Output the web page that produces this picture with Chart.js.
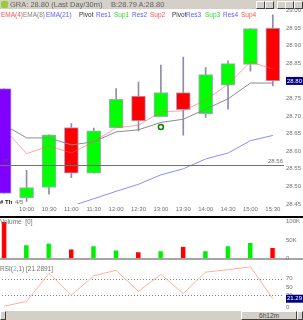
<!DOCTYPE html>
<html>
<head>
<meta charset="utf-8">
<script src="https://cdn.jsdelivr.net/npm/chart.js"></script>
<style>
  html, body { margin: 0; padding: 0; background: #fff; }
  #wrap { position: relative; width: 303px; height: 320px; overflow: hidden; font-family: "Liberation Sans", Arial, sans-serif; }
  canvas { position: absolute; left: -7px; }
  .txt { position: absolute; white-space: nowrap; font-size: 6.5px; line-height: 7px; }
  #title { position: absolute; left: 0; top: 0; width: 303px; height: 9px; background: #d4d0c8; }
  #title .t { position: absolute; top: 0; font-size: 7.5px; line-height: 9px; color: #606060; }
  .btn { position: absolute; top: 1px; width: 7px; height: 6px; background: #d4d0c8; border: 1px solid; border-color: #fff #404040 #404040 #fff; }
  #scroll { position: absolute; left: 0; top: 311px; width: 303px; height: 9px; background: #d4d0c8; }
</style>
</head>
<body>
<div id="wrap">
  <canvas id="main" width="310" height="208" style="top:5px"></canvas>
  <canvas id="vol" width="310" height="48" style="top:216px"></canvas>
  <canvas id="rsi" width="310" height="52" style="top:261px"></canvas>

  <div id="title">
    <div style="position:absolute;left:1px;top:1px;width:7px;height:7px;background:#9c3;border-radius:2px"></div>
    <div class="t" style="left:10px">GRA: 28.80 (Last Day/30m)</div>
    <div class="t" style="left:111px">B:28.79 A:28.80</div>
    <div class="btn" style="left:256px"></div>
    <div class="btn" style="left:265px"></div>
    <div class="btn" style="left:277px"></div>
    <div class="btn" style="left:285px"></div>
    <div class="btn" style="left:294px"></div>
  </div>

  <div id="legend"></div>

  <div style="position:absolute;left:0;top:216px;width:303px;height:2px;background:#000"></div>
  <div class="txt" style="left:0;top:218px;color:#707070">Volume&nbsp; [0]</div>
  <div class="txt" style="left:0;top:265px;color:#707070">RSI(<span style="color:#60c0ff">2</span>,1) [21.2891]</div>

  <div id="scroll">
    <div style="position:absolute;left:0;top:0;width:4px;height:7px;border:1px solid;border-color:#fff #404040 #404040 #fff"></div>
    <div style="position:absolute;left:241px;top:0;width:54px;height:7px;border:1px solid;border-color:#fff #404040 #404040 #fff;font-size:6.5px;line-height:7px;text-align:center;color:#404040">6h12m</div>
    <div style="position:absolute;left:297px;top:0;width:4px;height:7px;border:1px solid;border-color:#fff #404040 #404040 #fff"></div>
  </div>
</div>

<script>
// bar slots (first one is the previous day's last bar)
const times = ['', '10:00', '10:30', '11:00', '11:30', '12:00', '12:30', '13:00', '13:30', '14:00', '14:30', '15:00', '15:30'];

const opens  = [28.778, 28.467, 28.497, 28.667, 28.538, 28.667, 28.757, 28.698, 28.767, 28.707, 28.788, 28.847, 28.950];
const closes = [28.480, 28.497, 28.647, 28.538, 28.658, 28.748, 28.686, 28.767, 28.718, 28.818, 28.849, 28.949, 28.800];
const highs  = [28.778, 28.546, 28.647, 28.679, 28.666, 28.778, 28.797, 28.845, 28.868, 28.838, 28.857, 28.949, 28.988];
const lows   = [28.480, 28.457, 28.478, 28.525, 28.538, 28.667, 28.658, 28.698, 28.646, 28.696, 28.720, 28.828, 28.786];

const ema4  = [28.664, 28.593, 28.615, 28.595, 28.627, 28.667, 28.674, 28.712, 28.715, 28.746, 28.790, 28.854, 28.834];
const ema8  = [28.675, 28.638, 28.638, 28.618, 28.627, 28.655, 28.661, 28.682, 28.691, 28.720, 28.749, 28.794, 28.794];
const ema21 = [28.390, 28.400, 28.420, 28.444, 28.465, 28.486, 28.506, 28.533, 28.550, 28.578, 28.595, 28.630, 28.645];
const signal = [null, null, null, null, null, null, null, 28.669, null, null, null, null, null];

const pivot = 28.56;
const lastPrice = 28.80;

const volume = [99000, 36000, 40500, 24500, 33000, 21600, 17000, 19300, 31400, 19300, 33000, 42000, 28400];
const volTicks = [0, 25000, 50000, 75000, 100000];
const volTickLabels = ['0', '25K', '50K', '75K', '100K'];

const rsi = [3, 14.8, 83.4, 30.2, 77.3, 90.9, 39.3, 81.1, 34.1, 86.4, 92.5, 99.5, 21.29];
const rsiTicks = [0, 30, 50, 70];
const rsiLast = 21.29;

const legendItems = [
  ['EMA(4)', 1, '#ff5050'], ['EMA(8)', 23, '#808080'], ['EMA(21)', 46, '#6060ff'],
  ['Pivot', 79, '#303030'], ['Res1', 96, '#6060ff'], ['Sup1', 114, '#30d830'],
  ['Res2', 132, '#6060ff'], ['Sup2', 150, '#ff5050'], ['Pivot', 172, '#303030'],
  ['Res3', 186, '#6060ff'], ['Sup3', 205, '#30d830'], ['Res4', 223, '#6060ff'], ['Sup4', 241, '#ff5050']
];

const legend = document.getElementById('legend');
legendItems.forEach(([t, x, c]) => {
  const d = document.createElement('div');
  d.className = 'txt';
  d.style.left = x + 'px';
  d.style.top = '11px';
  d.style.color = c;
  d.textContent = t;
  legend.appendChild(d);
});

const tickFont = { family: 'Liberation Sans', size: 6 };
const tickColor = '#707070';
const AXIS_W = 19;
const noGrid = { display: false, drawTicks: false, tickLength: 0 };

const up = closes.map((c, i) => i > 0 && c > opens[i]);
const bodyColors = up.map(u => u ? '#00ff00' : '#ff0000');

function valueBox(ctx, chart, value, text) {
  const y = chart.scales.y.getPixelForValue(value);
  const x = chart.chartArea.right + 2;
  ctx.save();
  ctx.fillStyle = '#000080';
  ctx.fillRect(x, y - 4, 40, 8);
  ctx.fillStyle = '#fff';
  ctx.font = '6px Liberation Sans';
  ctx.textBaseline = 'middle';
  ctx.fillText(text, x + 1, y);
  ctx.restore();
}

const mainExtras = {
  id: 'mainExtras',
  afterDatasetsDraw(chart) {
    const ctx = chart.ctx;
    const a = chart.chartArea;
    const py = chart.scales.y.getPixelForValue(pivot);
    ctx.save();
    ctx.strokeStyle = '#707070';
    ctx.lineWidth = 1;
    ctx.beginPath();
    ctx.moveTo(a.left, Math.round(py) + 0.5);
    ctx.lineTo(a.right, Math.round(py) + 0.5);
    ctx.stroke();
    ctx.font = '6px Liberation Sans';
    ctx.fillStyle = '#505050';
    ctx.textBaseline = 'bottom';
    ctx.fillText('P', 11, py - 1);
    ctx.fillStyle = '#707070';
    ctx.textAlign = 'right';
    ctx.fillText(pivot.toFixed(2), a.right - 1, py - 1);
    ctx.textAlign = 'left';
    ctx.textBaseline = 'middle';
    ctx.font = 'bold 6px Liberation Sans';
    ctx.fillStyle = '#202020';
    ctx.fillText('# Th', 7, 197);
    ctx.font = '6px Liberation Sans';
    ctx.fillStyle = '#707070';
    ctx.fillText('4/5', 22, 197);
    ctx.restore();
    valueBox(ctx, chart, lastPrice, lastPrice.toFixed(2));
  }
};

new Chart(document.getElementById('main'), {
  type: 'bar',
  data: {
    labels: times,
    datasets: [
      {
        data: opens.map((o, i) => i === 0 ? [closes[i], o] : null),
        backgroundColor: '#8000ff', borderColor: '#a8a0d0', borderWidth: 1,
        borderSkipped: false, barThickness: 14, grouped: false, order: 0
      },
      {
        type: 'line', data: signal, showLine: false, pointStyle: 'circle',
        pointRadius: 2.5, pointBorderColor: '#008000', pointBackgroundColor: '#fff',
        pointBorderWidth: 1.5, order: 0
      },
      { type: 'line', data: ema4, borderColor: 'rgba(255,90,90,0.55)', borderWidth: 1, pointRadius: 0, order: 1 },
      { type: 'line', data: ema8, borderColor: '#8c8c8c', borderWidth: 1, pointRadius: 0, order: 1 },
      { type: 'line', data: ema21, borderColor: '#8c8cff', borderWidth: 1, pointRadius: 0, order: 1 },
      {
        data: opens.map((o, i) => i === 0 ? null : [o, closes[i]]),
        backgroundColor: bodyColors, borderColor: '#a8a8c8', borderWidth: 1,
        borderSkipped: false, barThickness: 14, grouped: false, order: 2
      },
      {
        data: lows.map((l, i) => [l, highs[i]]),
        backgroundColor: '#8c8cac', borderWidth: 0, barThickness: 1, grouped: false, order: 3
      }
    ]
  },
  options: {
    responsive: false,
    animation: false,
    devicePixelRatio: 1,
    layout: { autoPadding: false, padding: { top: 3, left: 0, right: 0, bottom: 0 } },
    plugins: { legend: { display: false }, tooltip: { enabled: false } },
    scales: {
      x: {
        offset: true,
        grid: noGrid,
        border: { display: false },
        ticks: { font: tickFont, color: tickColor, padding: 2, autoSkip: false, maxRotation: 0 },
        afterFit: s => { s.height = 9; }
      },
      y: {
        position: 'right',
        min: 28.45, max: 29.00,
        grid: noGrid,
        border: { display: false },
        ticks: {
          stepSize: 0.05, font: tickFont, color: tickColor, padding: 2,
          callback: v => Math.abs(v - lastPrice) < 0.001 ? '' : v.toFixed(2)
        },
        afterFit: s => { s.width = AXIS_W; }
      }
    }
  },
  plugins: [mainExtras]
});

const volExtras = {
  id: 'volExtras',
  afterDatasetsDraw(chart) {
    const ctx = chart.ctx;
    const y0 = chart.scales.y.getPixelForValue(0);
    ctx.save();
    ctx.strokeStyle = '#888';
    ctx.lineWidth = 1.5;
    ctx.beginPath();
    ctx.moveTo(0, y0 + 0.5);
    ctx.lineTo(chart.width, y0 + 0.5);
    ctx.stroke();
    ctx.restore();
  }
};

new Chart(document.getElementById('vol'), {
  type: 'bar',
  data: {
    labels: times,
    datasets: [{
      data: volume,
      backgroundColor: up.map(u => u ? '#00ee00' : '#ff0000'),
      borderColor: up.map(u => u ? '#b0ffb0' : '#ffb0b0'),
      borderWidth: { right: 1 },
      borderSkipped: false,
      barThickness: 5
    }]
  },
  options: {
    responsive: false,
    animation: false,
    devicePixelRatio: 1,
    layout: { autoPadding: false, padding: { top: 3, left: 0, right: 0, bottom: 0 } },
    plugins: { legend: { display: false }, tooltip: { enabled: false } },
    scales: {
      x: { offset: true, display: false },
      y: {
        position: 'right',
        min: 0, max: 100000,
        grid: noGrid,
        border: { display: false },
        afterBuildTicks: s => { s.ticks = volTicks.map(v => ({ value: v })); },
        ticks: {
          font: tickFont, color: tickColor, padding: 2,
          callback: v => volTickLabels[volTicks.indexOf(v)]
        },
        afterFit: s => { s.width = AXIS_W; }
      }
    }
  },
  plugins: [volExtras]
});

const rsiExtras = {
  id: 'rsiExtras',
  beforeDatasetsDraw(chart) {
    const ctx = chart.ctx;
    const a = chart.chartArea;
    ctx.save();
    ctx.strokeStyle = '#808080';
    ctx.lineWidth = 1;
    ctx.setLineDash([1, 2]);
    [70, 30].forEach(v => {
      const y = Math.round(chart.scales.y.getPixelForValue(v)) + 0.5;
      ctx.beginPath();
      ctx.moveTo(a.left, y);
      ctx.lineTo(a.right, y);
      ctx.stroke();
    });
    ctx.restore();
  },
  afterDatasetsDraw(chart) {
    valueBox(chart.ctx, chart, rsiLast, rsiLast.toFixed(2));
  }
};

new Chart(document.getElementById('rsi'), {
  type: 'line',
  data: {
    labels: times,
    datasets: [{ data: rsi, borderColor: '#ffb098', borderWidth: 1, pointRadius: 0 }]
  },
  options: {
    responsive: false,
    animation: false,
    devicePixelRatio: 1,
    layout: { autoPadding: false, padding: { top: 1, left: 0, right: 0, bottom: 1 } },
    plugins: { legend: { display: false }, tooltip: { enabled: false } },
    scales: {
      x: { offset: true, display: false },
      y: {
        position: 'right',
        min: 0, max: 100,
        grid: noGrid,
        border: { display: false },
        afterBuildTicks: s => { s.ticks = rsiTicks.map(v => ({ value: v })); },
        ticks: { font: tickFont, color: tickColor, padding: 2 },
        afterFit: s => { s.width = AXIS_W; }
      }
    }
  },
  plugins: [rsiExtras]
});
</script>
</body>
</html>
